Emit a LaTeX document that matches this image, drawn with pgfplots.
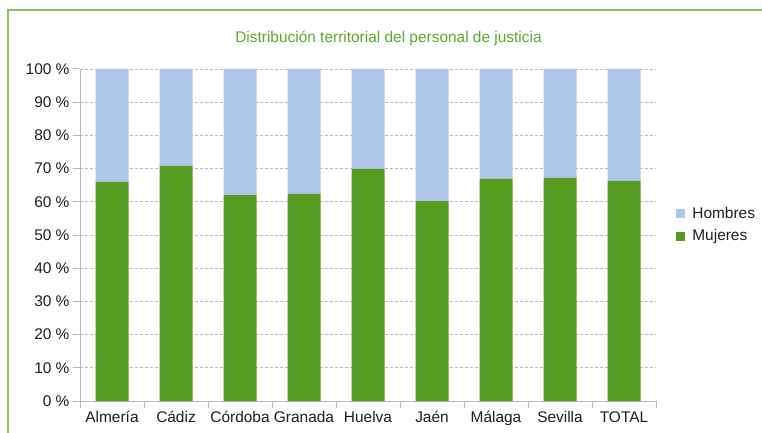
\documentclass[border=0pt]{standalone}
\usepackage{pgfplots}
\pgfplotsset{compat=1.18}
\usepackage{fontspec}
\setmainfont{Liberation Sans}
\definecolor{mujer}{RGB}{86,156,30}
\definecolor{hombre}{RGB}{174,198,232}
\definecolor{titlegreen}{RGB}{90,170,40}
\definecolor{framegreen}{RGB}{140,195,90}
\definecolor{axgray}{RGB}{185,185,185}
\definecolor{txt}{RGB}{30,30,30}
\begin{document}
\begin{tikzpicture}[x=1bp,y=1bp]
\path[use as bounding box] (0,0) rectangle (762,432);
\draw[framegreen, line width=1.5bp] (8,-5) -- (8,422) -- (775,422);
\node[text=titlegreen, font=\fontsize{15.5}{18}\selectfont] at (388.5,394) {Distribución territorial del personal de justicia};
\begin{axis}[
  at={(80bp,31bp)}, anchor=south west,
  scale only axis, width=576bp, height=332bp,
  xmin=-0.5, xmax=8.5, ymin=0, ymax=100,
  ybar stacked, bar width=33bp,
  axis lines*=left, axis line style={draw=axgray, line width=1bp, -},
  xtick={0,...,8},
  xticklabels={Almería,Cádiz,Córdoba,Granada,Huelva,Jaén,Málaga,Sevilla,TOTAL},
  xtick style={draw=none},
  extra x ticks={-0.5,0.5,...,8.5},
  extra x tick labels={},
  extra x tick style={xtick style={draw=axgray, line width=1bp}},
  ytick={0,10,...,100},
  ytick style={draw=axgray, line width=1bp},
  tick align=outside, major tick length=7bp,
  yticklabel={\pgfmathprintnumber{\tick}~\%},
  /pgf/number format/assume math mode=true,
  ymajorgrids, grid style={draw=axgray, line width=0.8bp, dash pattern=on 3bp off 2bp},
  ticklabel style={font=\fontsize{15.5}{18}\selectfont, text=txt},
  xticklabel style={text height=11bp, text depth=3bp},
  legend style={draw=none, fill=none, inner sep=0pt, font=\fontsize{15.5}{18}\selectfont, text=txt,
    at={(axis description cs:1.035,0.591)}, anchor=north west, row sep=6bp, cells={anchor=west},
    nodes={inner sep=2bp}},
  legend image code/.code={\fill[#1] (0bp,-4.5bp) rectangle (9bp,4.5bp); \path (14bp,0bp);},
  reverse legend,
]
\addplot[fill=mujer, draw=none] coordinates {(0,66.0) (1,70.8) (2,62.0) (3,62.4) (4,69.9) (5,60.2) (6,66.9) (7,67.2) (8,66.3)};
\addlegendentry{Mujeres}
\addplot[fill=hombre, draw=none] coordinates {(0,34.0) (1,29.2) (2,38.0) (3,37.6) (4,30.1) (5,39.8) (6,33.1) (7,32.8) (8,33.7)};
\addlegendentry{Hombres}
\end{axis}
\end{tikzpicture}
\end{document}
